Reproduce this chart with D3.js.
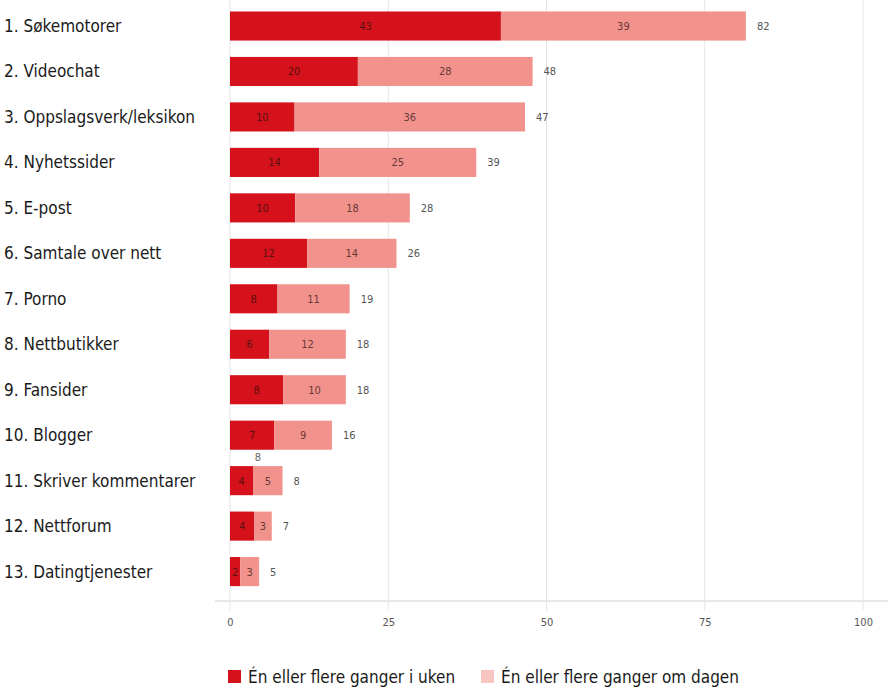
<!DOCTYPE html>
<html>
<head>
<meta charset="utf-8">
<script src="https://cdn.jsdelivr.net/npm/d3@7"></script>
<style>
  html, body { margin: 0; padding: 0; background: #fff; }
  svg { display: block; }
</style>
</head>
<body>
<svg id="chart" width="888" height="688"></svg>
<script>
const categories = [
  "1. Søkemotorer", "2. Videochat", "3. Oppslagsverk/leksikon", "4. Nyhetssider",
  "5. E-post", "6. Samtale over nett", "7. Porno", "8. Nettbutikker",
  "9. Fansider", "10. Blogger", "11. Skriver kommentarer", "12. Nettforum",
  "13. Datingtjenester"
];
// "Én eller flere ganger i uken"
const weekly = [42.8, 20.2, 10.2, 14.1, 10.3, 12.2, 7.5, 6.2, 8.4, 7.0, 3.7, 3.8, 1.6];
// "Én eller flere ganger om dagen"
const daily  = [38.7, 27.6, 36.4, 24.8, 18.1, 14.1, 11.4, 12.1, 9.9, 9.1, 4.6, 2.8, 3.0];
const seriesNames = ["Én eller flere ganger i uken", "Én eller flere ganger om dagen"];
const xTicks = [0, 25, 50, 75, 100];
// stray label shown above row 11 in the original
const strayLabel = { category: "11. Skriver kommentarer", value: 4.4, text: "8" };

const colWeekly = "#d5121b";
const colDaily = "#f2928c";
const colDailyLegend = "#f8c6c1";
const condensed = "'Liberation Sans Narrow', 'DejaVu Sans Condensed', 'Roboto Condensed', sans-serif";

const svg = d3.select("#chart");
const x = d3.scaleLinear().domain([0, 100]).range([230, 863]);
const y = d3.scaleBand().domain(categories).range([-4.9, 602.5]).padding(0.36);

// grid lines
svg.append("g").selectAll("line").data(xTicks).join("line")
  .attr("x1", d => x(d)).attr("x2", d => x(d))
  .attr("y1", 0).attr("y2", 611)
  .attr("stroke", "#e4e4e4").attr("stroke-width", 1);

// baseline
svg.append("line")
  .attr("x1", 215).attr("x2", 888).attr("y1", 601).attr("y2", 601)
  .attr("stroke", "#e8e8e8").attr("stroke-width", 2);

// x axis labels
const xAxis = d3.axisBottom(x).tickValues(xTicks).tickSize(0).tickPadding(0);
const gx = svg.append("g").attr("transform", "translate(0,618)").call(xAxis);
gx.select(".domain").remove();
gx.selectAll("text")
  .attr("font-family", condensed).attr("font-size", 11).attr("fill", "#555");

const rows = categories.map((c, i) => ({ c, w: weekly[i], d: daily[i] }));

// bars
const g = svg.append("g");
g.selectAll("rect.w").data(rows).join("rect").attr("class", "w")
  .attr("x", x(0)).attr("y", d => y(d.c))
  .attr("width", d => x(d.w) - x(0)).attr("height", y.bandwidth())
  .attr("fill", colWeekly);
g.selectAll("rect.d").data(rows).join("rect").attr("class", "d")
  .attr("x", d => x(d.w)).attr("y", d => y(d.c))
  .attr("width", d => x(d.w + d.d) - x(d.w)).attr("height", y.bandwidth())
  .attr("fill", colDaily);

// inner labels
g.selectAll("text.wl").data(rows).join("text").attr("class", "wl")
  .attr("x", d => (x(0) + x(d.w)) / 2).attr("y", d => y(d.c) + y.bandwidth() / 2 + 4)
  .attr("text-anchor", "middle").attr("font-family", condensed).attr("font-size", 11)
  .attr("fill", "#5a1010").text(d => Math.round(d.w));
g.selectAll("text.dl").data(rows).join("text").attr("class", "dl")
  .attr("x", d => (x(d.w) + x(d.w + d.d)) / 2).attr("y", d => y(d.c) + y.bandwidth() / 2 + 4)
  .attr("text-anchor", "middle").attr("font-family", condensed).attr("font-size", 11)
  .attr("fill", "#6a3a38").text(d => Math.round(d.d));
// totals
g.selectAll("text.tl").data(rows).join("text").attr("class", "tl")
  .attr("x", d => x(d.w + d.d) + 11).attr("y", d => y(d.c) + y.bandwidth() / 2 + 4)
  .attr("text-anchor", "start").attr("font-family", condensed).attr("font-size", 11)
  .attr("fill", "#555").text(d => Math.round(d.w + d.d));
// stray label
g.append("text")
  .attr("x", x(strayLabel.value)).attr("y", y(strayLabel.category) - 5)
  .attr("text-anchor", "middle").attr("font-family", condensed).attr("font-size", 11)
  .attr("fill", "#666").text(strayLabel.text);

// category labels
svg.append("g").selectAll("text").data(categories).join("text")
  .attr("x", 4).attr("y", d => y(d) + y.bandwidth() / 2 + 6)
  .attr("font-family", condensed).attr("font-size", 17).attr("fill", "#1a1a1a")
  .text(d => d);

// legend
const legendX = [228, 481];
const legendCol = [colWeekly, colDailyLegend];
const lg = svg.append("g").selectAll("g").data(seriesNames).join("g")
  .attr("transform", (d, i) => `translate(${legendX[i]},670)`);
lg.append("rect").attr("width", 13).attr("height", 13).attr("fill", (d, i) => legendCol[i]);
lg.append("text").attr("x", 20).attr("y", 13)
  .attr("font-family", condensed).attr("font-size", 17).attr("fill", "#1a1a1a")
  .text(d => d);
</script>
</body>
</html>
